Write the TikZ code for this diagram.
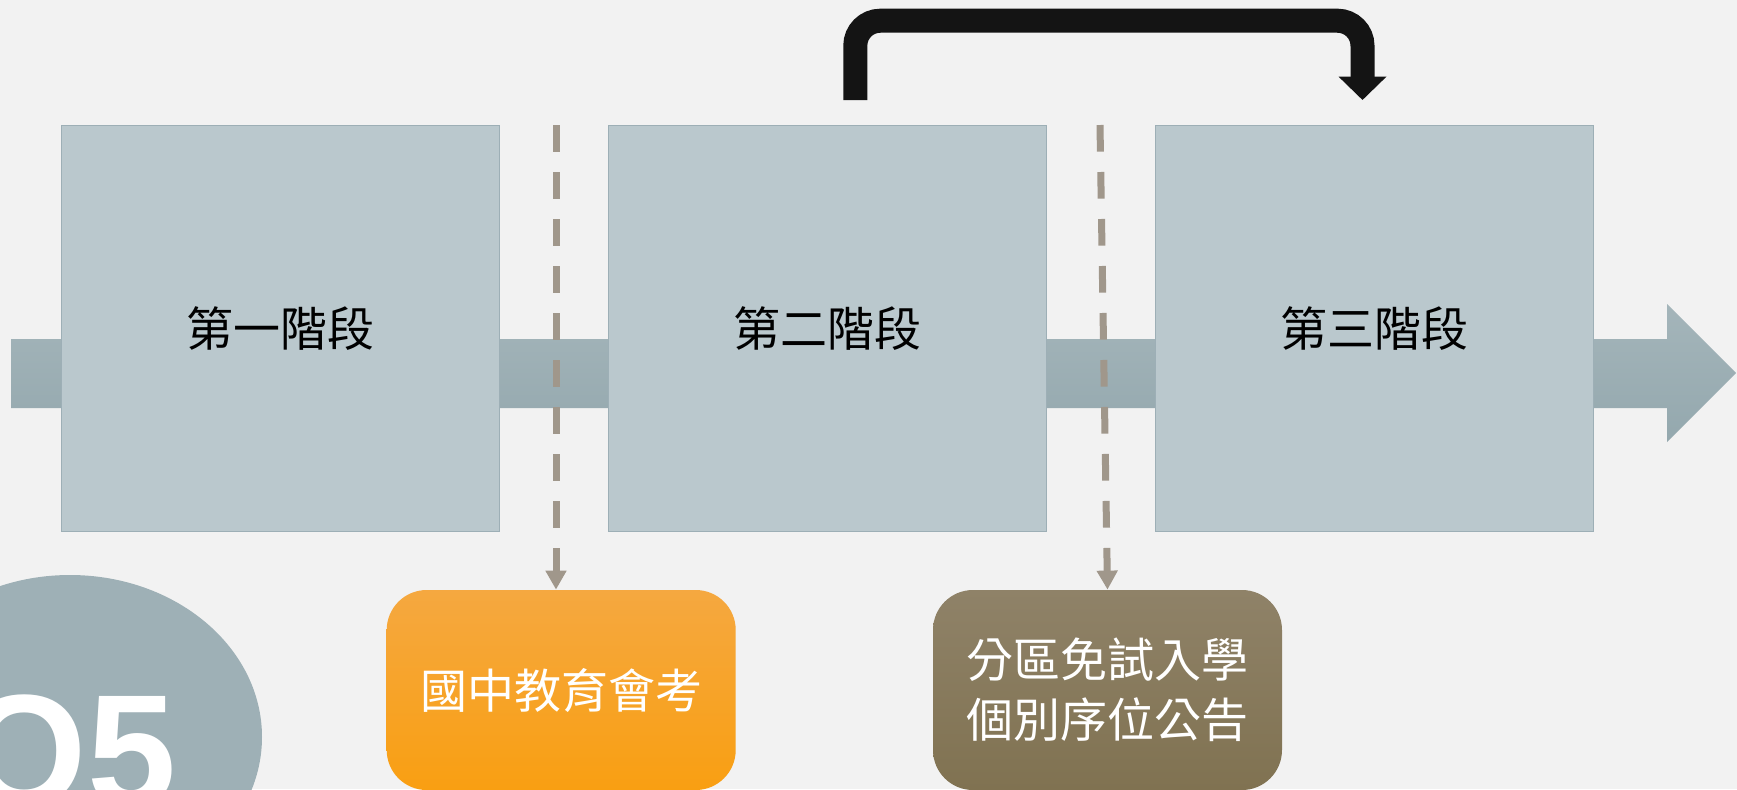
\documentclass[tikz,border=0pt]{standalone}
\usepackage{fontspec}
\newfontfamily\cjk{Noto Sans CJK TC}
\newfontfamily\qfont{Liberation Sans}
\usetikzlibrary{arrows.meta}
\definecolor{bggray}{HTML}{F2F2F2}
\definecolor{boxfill}{HTML}{BAC8CD}
\definecolor{boxline}{HTML}{9DAFB6}
\definecolor{bandtop}{HTML}{A4B5BA}
\definecolor{bandbot}{HTML}{94A8AE}
\definecolor{dashgray}{HTML}{A0978B}
\definecolor{orangetop}{HTML}{F5A840}
\definecolor{orangebot}{HTML}{F99F12}
\definecolor{browntop}{HTML}{8F8268}
\definecolor{brownbot}{HTML}{807251}
\definecolor{qcircle}{HTML}{9EB0B6}
\begin{document}
\begin{tikzpicture}[x=0.5pt,y=-0.5pt,
    stagebox/.style={draw=boxline,fill=boxfill,line width=0.5pt,
        minimum width=219.3pt,minimum height=203.3pt,inner sep=0pt,
        font=\cjk\fontsize{23.5pt}{30pt}\selectfont},
    eventbox/.style={rounded corners=20pt,minimum width=174.5pt,
        minimum height=100pt,inner sep=0pt,text=white,align=center,
        font=\cjk\fontsize{23.5pt}{30pt}\selectfont},
    dashline/.style={dashgray,line width=3.5pt,
        dash pattern=on 13.3pt off 10.2pt,
        -{Triangle[width=10pt,length=9.5pt]}},
    jumpline/.style={black!92,line width=12pt,rounded corners=12.5pt,
        -{Triangle[width=23.3pt,length=11.7pt]}}]
    % 畫布與背景
    \useasboundingbox (0,0) rectangle (1737,789);
    \clip (0,0) rectangle (1737,789);
    \fill[bggray] (0,0) rectangle (1737,789);
    % 時間軸箭頭
    \shade[top color=bandtop,bottom color=bandbot]
        (11,339) -- (1667,339) -- (1667,304) -- (1736,373)
        -- (1667,442) -- (1667,408) -- (11,408) -- cycle;
    % 三個階段
    \foreach \i/\lab in {1/第一階段, 2/第二階段, 3/第三階段} {
        \node[stagebox] (stage\i) at ({280.3+547*(\i-1)},328.4) {\lab};
    }
    % 下方事件
    \node[eventbox,top color=orangetop,bottom color=orangebot]
        (exam) at (561.2,690) {國中教育會考};
    \node[eventbox,top color=browntop,bottom color=brownbot]
        (notice) at (1107.5,690) {分區免試入學\\個別序位公告};
    % 虛線箭頭
    \coordinate (cut1) at (556,125);
    \coordinate (cut2) at (1100,125);
    \draw[dashline] (cut1) -- (cut1 |- exam.north);
    \draw[dashline] (cut2) -- (notice.north);
    % 第二階段跳到第三階段
    \coordinate (jumpfrom) at (855.3,100);
    \coordinate (jumpto) at (1362.5,100);
    \draw[jumpline] (jumpfrom) -- (855.3,20.7) -- (1362.5,20.7) -- (jumpto);
    % Q5 標記
    \fill[qcircle] (70,737) ellipse [x radius=192,y radius=162];
    \node[anchor=base west,inner sep=0pt,text=white,
        font=\qfont\bfseries\fontsize{80pt}{80pt}\selectfont]
        (qlabel) at (-37.5,806) {Q5};
\end{tikzpicture}
\end{document}
